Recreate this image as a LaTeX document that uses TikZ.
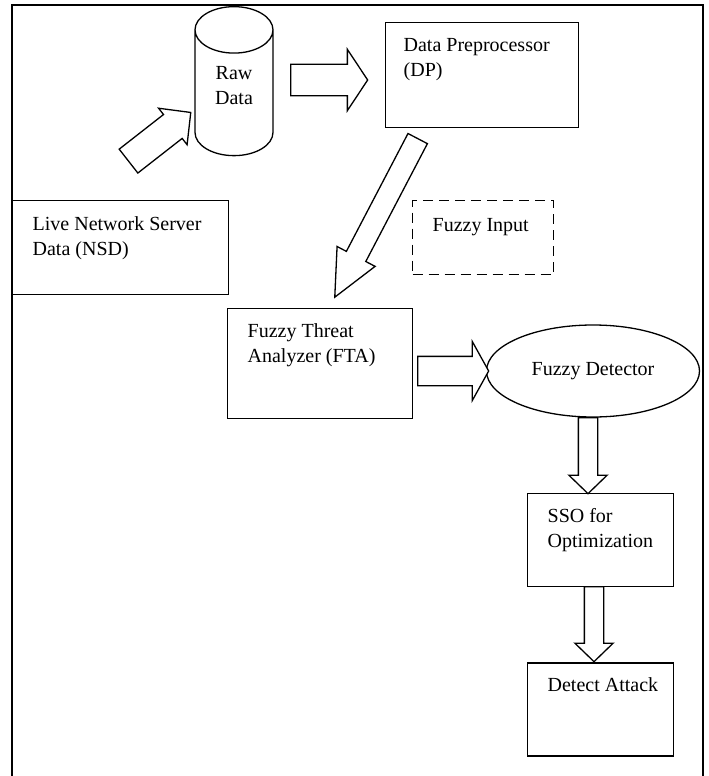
\documentclass[tikz,border=0pt]{standalone}
\usepackage{fontspec}
\setmainfont{Liberation Serif}
\usetikzlibrary{shapes.geometric,shapes.arrows,positioning}

\begin{document}
\begin{tikzpicture}[
  x=1pt, y=-1pt,
  font=\fontsize{20}{25}\selectfont,
  line width=1.3pt,
  box/.style={draw,anchor=north west,inner sep=0pt},
  txt/.style={align=left,inner sep=0pt},
  % shaft width, head extend
  fat/.style 2 args={single arrow,draw,fill=white,anchor=tail,inner sep=0pt,
    text height=#1,text depth=0pt,single arrow head extend=#2}]
\useasboundingbox (0,0) rectangle (709,776);
% frame, open at the bottom
\draw[line width=1.6pt] (12,776) -- (12,5) -- (703,5) -- (703,776);

\node[cylinder,draw,shape border rotate=90,aspect=1.23,minimum width=78pt,
  minimum height=149pt,align=center,inner sep=0pt,text depth=16pt,anchor=top] (raw) at (234,6) {Raw\\Data};
\node[box,minimum width=193pt,minimum height=105pt] (dp) at (385,22) {};
\node[txt,below right=16pt and 18pt of dp.north west] (dp-txt) {Data Preprocessor\\(DP)};
\node[box,minimum width=216pt,minimum height=94pt] (nsd) at (12,200) {};
\node[txt,below right=16pt and 20pt of nsd.north west] (nsd-txt) {Live Network Server\\Data (NSD)};
\node[box,dashed,dash pattern=on 10pt off 6pt,minimum width=141pt,minimum height=74pt] (fin) at (412,200) {};
\node[txt,below right=18pt and 20pt of fin.north west] (fin-txt) {Fuzzy Input};
\node[box,minimum width=185pt,minimum height=110pt] (fta) at (227,308) {};
\node[txt,below right=15pt and 20pt of fta.north west] (fta-txt) {Fuzzy Threat\\Analyzer (FTA)};
\node[ellipse,draw,minimum width=213pt,minimum height=92pt,inner sep=0pt] (fd) at (593,371) {Fuzzy Detector};
\node[box,minimum width=146pt,minimum height=93pt] (sso) at (527,493) {};
\node[txt,below right=15pt and 20pt of sso.north west] (sso-txt) {SSO for\\Optimization};
\node[box,minimum width=146pt,minimum height=93pt,below=75pt of sso] (da) {};
\node[txt,below right=15pt and 20pt of da.north west] (da-txt) {Detect Attack};

% block arrows
\node[fat={29pt}{8pt},rotate=38,minimum height=79pt,single arrow tip angle=91] (toraw) at (128,161.5) {};
\node[fat={30pt}{15pt},minimum height=77pt,single arrow tip angle=113] (todp) at (290,80) {};
\node[fat={20.6pt}{10.5pt},rotate=242.4,minimum height=179pt,single arrow tip angle=50] (tofta) at (418,138) {};
\node[fat={28pt}{15pt},minimum height=71pt,single arrow tip angle=122] (tofd) at (417,371) {};
\node[fat={18pt}{9.5pt},rotate=-90,minimum height=76pt,single arrow tip angle=92] (tosso) at (588,417) {};
\node[fat={18pt}{9.5pt},rotate=-90,minimum height=75pt,single arrow tip angle=92] (toda) at (594,586) {};
\end{tikzpicture}
\end{document}
